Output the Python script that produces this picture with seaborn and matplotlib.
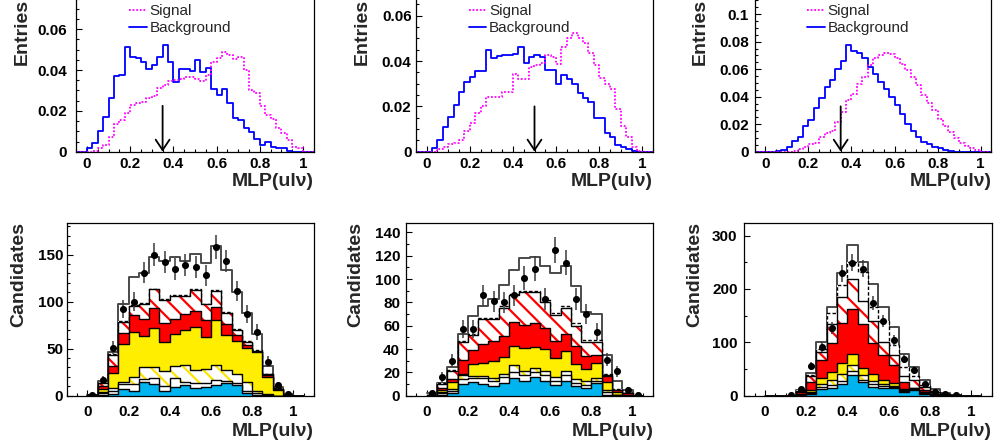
import numpy as np
import matplotlib
matplotlib.use("Agg")
import matplotlib.pyplot as plt
import matplotlib.transforms as mtransforms
from matplotlib.lines import Line2D
from matplotlib.ticker import MultipleLocator, FuncFormatter
import seaborn as sns


# ---- top row: normalised MLP(ulv) output, 40 bins of 0.025 on [0, 1] ----
sig_left = [0, 0.0005, 0.0016, 0.0033, 0.0074, 0.0136, 0.0155, 0.0188, 0.0229, 0.0237,
            0.0245, 0.0262, 0.0273, 0.0311, 0.0327, 0.0347, 0.0352, 0.0355, 0.0365, 0.0365,
            0.0356, 0.0347, 0.0376, 0.0441, 0.0458, 0.0490, 0.0474, 0.0453, 0.0463, 0.0401,
            0.0302, 0.0286, 0.0224, 0.0180, 0.0159, 0.0114, 0.0093, 0.0057, 0.0025, 0.0016]
bkg_left = [0.0016, 0.0044, 0.0103, 0.0168, 0.0265, 0.0371, 0.0376, 0.0515, 0.0466, 0.0458,
            0.0441, 0.0404, 0.0425, 0.0463, 0.0523, 0.0441, 0.0343, 0.0404, 0.0405, 0.0396,
            0.0450, 0.0392, 0.0412, 0.0306, 0.0278, 0.0306, 0.0240, 0.0164, 0.0155, 0.0118,
            0.0098, 0.0060, 0.0033, 0.0049, 0.0025, 0.0020, 0.0016, 0.0003, 0, 0]
sig_mid = [0, 0, 0.0012, 0.0022, 0.0034, 0.0040, 0.0051, 0.0091, 0.0128, 0.0169,
           0.0201, 0.0240, 0.0240, 0.0243, 0.0265, 0.0265, 0.0343, 0.0322, 0.0322, 0.0375,
           0.0382, 0.0392, 0.0426, 0.0419, 0.0385, 0.0463, 0.0500, 0.0522, 0.0500, 0.0481,
           0.0434, 0.0382, 0.0326, 0.0301, 0.0275, 0.0187, 0.0113, 0.0066, 0.0022, 0.0004]
bkg_mid = [0, 0.0015, 0.0051, 0.0110, 0.0154, 0.0206, 0.0265, 0.0309, 0.0331, 0.0356,
           0.0356, 0.0451, 0.0412, 0.0422, 0.0426, 0.0429, 0.0431, 0.0463, 0.0390, 0.0416,
           0.0429, 0.0416, 0.0360, 0.0360, 0.0301, 0.0338, 0.0323, 0.0297, 0.0260, 0.0235,
           0.0221, 0.0147, 0.0147, 0.0081, 0.0066, 0.0029, 0.0022, 0.0010, 0.0004, 0]
sig_right = [0, 0, 0, 0, 0, 0.0007, 0.0017, 0.0036, 0.0056, 0.0065,
             0.0104, 0.0138, 0.0152, 0.0218, 0.0290, 0.0375, 0.0419, 0.0491, 0.0545, 0.0629,
             0.0678, 0.0702, 0.0719, 0.0714, 0.0685, 0.0641, 0.0593, 0.0540, 0.0484, 0.0411,
             0.0351, 0.0303, 0.0235, 0.0186, 0.0145, 0.0097, 0.0065, 0.0041, 0.0024, 0.0012]
bkg_right = [0, 0, 0.0005, 0.0012, 0.0036, 0.0080, 0.0109, 0.0186, 0.0230, 0.0315,
             0.0387, 0.0467, 0.0520, 0.0598, 0.0658, 0.0774, 0.0733, 0.0719, 0.0685, 0.0617,
             0.0564, 0.0508, 0.0453, 0.0399, 0.0339, 0.0273, 0.0201, 0.0152, 0.0109, 0.0073,
             0.0053, 0.0036, 0.0024, 0.0012, 0.0005, 0, 0, 0, 0, 0]

# MLP cut value and the height where the cut arrow starts
cut_values = [0.35, 0.50, 0.35]
cut_arrow_tops = [0.0225, 0.020, 0.033]

# ---- bottom row: stacked candidates, 21 bins of 0.05 on [0, 1.05] ----
# each list is one component, from the bottom of the stack upwards
cyan_left = [0.3, 1, 2, 7, 5, 15, 12, 5, 9, 11, 8, 9, 11, 14, 11, 3, 1, 0, 0, 0, 0]
white_left = [0.2, 2, 3, 5, 7, 3, 7, 5, 10, 4, 5, 4, 6, 2, 2, 2, 2, 1, 0, 0, 0]
yhatch_left = [0, 1, 3, 3, 8, 13, 12, 16, 13, 18, 14, 15, 16, 11, 10, 10, 2, 1, 0, 0, 0]
yellow_left = [0.3, 3, 16, 40, 48, 32, 41, 31, 34, 37, 46, 34, 48, 38, 35, 36, 41, 18, 6, 1, 0]
red_left = [0.1, 3, 8, 12, 18, 19, 21, 20, 16, 17, 17, 18, 13, 11, 7, 3, 1, 2, 1, 0, 0]
rhatch_left = [0.1, 3, 11, 11, 9, 16, 20, 25, 24, 19, 22, 17, 17, 12, 5, 3, 1, 1, 0.5, 0, 0]
dashed_left = [0, 0.5, 1, 1, 1, 1, 1, 1, 1, 1, 1, 1, 1, 1, 1, 1, 1, 0.5, 0.5, 0, 0]
other_left = [0, 2.5, 2, 18, 30, 31, 34, 40, 40, 36, 38, 43, 47, 45, 39, 30, 17, 8.5, 1, 1, 0]
data_left = [1, 17, 51, 92, 100, 131, 150, 142, 135, 139, 137, 128, 158, 143, 111, 87, 68, 36, 11, 2, 0]

cyan_mid = [0, 1, 2, 10, 12, 10, 8, 11, 15, 13, 16, 13, 9, 13, 8, 7, 11, 1, 0.5, 0, 0]
white_mid = [0, 1, 2, 4, 3, 5, 5, 5, 5, 5, 4, 5, 4, 5, 3, 2, 2, 2, 0.5, 0, 0]
yhatch_mid = [0, 1, 2, 4, 2, 2, 2, 3, 6, 3, 4, 3, 3, 3, 3, 4, 2, 2, 0, 0, 0]
yellow_mid = [0.5, 2, 6, 1, 10, 11, 15, 14, 17, 20, 18, 19, 16, 17, 13, 10, 13, 7, 2, 1, 0]
red_mid = [0.3, 2, 2, 12, 12, 16, 17, 18, 20, 20, 20, 18, 15, 15, 16, 11, 7, 5, 2, 1, 0]
rhatch_mid = [0.2, 3, 7, 15, 13, 22, 19, 24, 23, 28, 27, 22, 22, 22, 17, 12, 11, 1, 0, 0, 0]
dashed_mid = [0, 0.5, 1, 1, 1, 1, 1, 2, 1, 1, 1, 2, 2, 2, 2, 2, 2, 1, 0.5, 0, 0]
other_mid = [1, 0.5, 3, 6, 15, 10, 16, 18, 21, 28, 29, 29, 34, 34, 32, 24, 22, 16, 7.5, 3, 0]
data_mid = [2, 16, 30, 57, 57, 86, 81, 80, 86, 101, 109, 83, 125, 114, 83, 70, 55, 31, 21, 5, 1]

cyan_right = [0, 0, 0, 1, 3, 12, 14, 21, 38, 25, 17, 15, 15, 6, 10, 4, 1, 0, 0, 0, 0]
white_right = [0, 0, 0, 1, 2, 4, 6, 6, 8, 5, 5, 3, 2, 2, 1, 1, 1, 0, 0, 0, 0]
yhatch_right = [0, 0, 0, 0, 2, 6, 9, 13, 12, 8, 5, 4, 2, 2, 1, 1, 1, 0, 0, 0, 0]
yellow_right = [0, 0, 0, 1, 3, 12, 15, 22, 21, 14, 13, 7, 5, 3, 2, 1, 0, 1, 0, 0, 0]
red_right = [0, 0, 0, 4, 16, 32, 54, 74, 83, 83, 58, 47, 33, 13, 0, 4, 1, 1, 1, 0, 0]
rhatch_right = [0, 0, 0, 2, 11, 16, 36, 49, 56, 43, 41, 25, 19, 10, 15, 6, 3.5, 1, 0, 0, 0]
dashed_right = [0, 0, 0, 1, 2, 6, 20, 23, 32, 54, 28, 38, 19, 18, 7, 3, 0.5, 0, 0, 0, 0]
other_right = [0, 0, 0, 1, 4, 13, 12, 22, 32, 19, 42, 28, 33, 24, 17, 9, 4, 2, 1, 0, 0]
data_right = [0, 0, 2, 12, 55, 91, 127, 229, 249, 238, 173, 140, 104, 69, 49, 21, 6, 3, 1, 0, 0]

top_edges = np.linspace(-0.05, 1.05, 45)    # 40 bins on [0,1] plus 2 empty bins each side
bottom_edges = np.linspace(0, 1.05, 22)

W, H = 995, 447

# fill colour, hatch colour, hatch, outline colour, outline style, outline width
layer_styles = [
    ("#00B4F0", None, None, "black", "-", 1.0),
    ("white", None, None, "black", "-", 1.0),
    ("white", "#FFE400", "\\\\", "black", "-", 1.0),
    ("#FFEE00", None, None, "black", "-", 1.0),
    ("#FF0000", None, None, "black", "-", 1.0),
    ("white", "#FF0000", "\\\\", "black", "-", 1.0),
    ("white", None, None, "black", (0, (2.5, 1.5)), 1.0),
    ("white", None, None, "#4a4a4a", "-", 1.4),
]


def px_box(left, width, base, height):
    # pixel box (base measured from the top of the image) -> figure fraction
    return [left / W, (H - base) / H, width / W, height / H]


def style_axes(ax, xlim, ylim, ymajor, yminor, ypad, xpad):
    ax.set_xlim(*xlim)
    ax.set_ylim(*ylim)
    ax.set_xlabel("")
    ax.set_ylabel("")
    fmt = FuncFormatter(lambda v, pos: f"{round(v, 6) + 0.0:g}")
    ax.xaxis.set_major_locator(MultipleLocator(0.2))
    ax.xaxis.set_minor_locator(MultipleLocator(0.05))
    ax.yaxis.set_major_locator(MultipleLocator(ymajor))
    ax.yaxis.set_minor_locator(MultipleLocator(yminor))
    ax.xaxis.set_major_formatter(fmt)
    ax.yaxis.set_major_formatter(fmt)
    ax.tick_params(which="both", direction="in", top=False, right=False,
                   width=0.8, colors="black", labelsize=11)
    ax.tick_params(which="major", length=4.5)
    ax.tick_params(which="minor", length=2.3)
    ax.tick_params(axis="y", pad=ypad)
    ax.tick_params(axis="x", pad=xpad)
    for s in ax.spines.values():
        s.set_visible(True)
        s.set_color("black")
        s.set_linewidth(0.9)


def mlp_label(fig, ax, offset):
    trans = mtransforms.offset_copy(ax.transAxes, fig=fig, x=0, y=-offset, units="dots")
    ax.text(1.0, 0.0, "MLP(ulν)", transform=trans, ha="right", va="center",
            fontsize=14, fontweight="bold")


def draw_top(fig, ax, sig, bkg, cut, arrow_top, legend_y):
    centers = (top_edges[:-1] + top_edges[1:]) / 2
    bins = top_edges.tolist()
    sns.histplot(x=centers, weights=np.pad(bkg, 2), bins=bins, element="step",
                 fill=False, color="#0000FF", linewidth=1.3, ax=ax)
    sns.histplot(x=centers, weights=np.pad(sig, 2), bins=bins, element="step",
                 fill=False, color="#FF00FF", linestyle=(0, (1, 1)), linewidth=1.3, ax=ax)
    ax.annotate("", xy=(cut, 0), xytext=(cut, arrow_top),
                arrowprops=dict(arrowstyle="->,head_length=0.75,head_width=0.5",
                                color="black", lw=1.3, shrinkA=0, shrinkB=0,
                                mutation_scale=10))
    handles = [Line2D([], [], color="#FF00FF", linestyle=(0, (1, 1)), lw=1.3),
               Line2D([], [], color="#0000FF", lw=1.3)]
    ax.legend(handles, ["Signal", "Background"], loc="upper left",
              bbox_to_anchor=(0.222, legend_y), frameon=False,
              prop={"weight": "normal", "size": 11}, handlelength=1.15,
              handletextpad=0.2, labelspacing=0.2, borderpad=0, borderaxespad=0)


def draw_stack(ax, components, data):
    centers = (bottom_edges[:-1] + bottom_edges[1:]) / 2
    bins = bottom_edges.tolist()
    tops = np.cumsum(np.array(components, dtype=float), axis=0)
    n = len(components)
    for k in range(n - 1, -1, -1):
        face, hcol, hatch, lc, ls, lw = layer_styles[k]
        z = 1 + (n - 1 - k) * 0.1
        sns.histplot(x=centers, weights=tops[k], bins=bins, element="step",
                     fill=True, facecolor=face, edgecolor=hcol if hcol else face,
                     linewidth=0, hatch=hatch, ax=ax, zorder=z)
        sns.histplot(x=centers, weights=tops[k], bins=bins, element="step",
                     fill=False, color=lc, linestyle=ls, linewidth=lw, ax=ax, zorder=z + 0.05)
    y = np.array(data, dtype=float)
    mask = y > 0
    ax.errorbar(centers[mask], y[mask], yerr=np.sqrt(y[mask]), fmt="none",
                ecolor="#3a3a3a", elinewidth=1.1, capsize=0, zorder=4)
    sns.scatterplot(x=centers[mask], y=y[mask], color="black", s=26, linewidth=0,
                    ax=ax, zorder=5)


def main():
    sns.set_style("ticks")
    plt.rcParams["font.family"] = ["Liberation Sans", "DejaVu Sans"]
    plt.rcParams["font.weight"] = "bold"
    plt.rcParams["hatch.linewidth"] = 1.6

    fig = plt.figure(figsize=(W / 100, H / 100), dpi=100)

    # top row: (left px, width px, px per unit y, ymax); baseline 151.7 px from top
    top_boxes = [(76.2, 237.6, 2040.0, 0.0755), (415.9, 237.2, 2265.0, 0.068),
                 (754.5, 237.0, 1375.0, 0.1125)]
    top_ypads = [6.5, 3.1, 4.1]
    entries_x = [22.5, 362.5, 700.0]
    tops = [(sig_left, bkg_left), (sig_mid, bkg_mid), (sig_right, bkg_right)]
    for i, (sig, bkg) in enumerate(tops):
        left, width, scale, ymax = top_boxes[i]
        height = ymax * scale
        ax = fig.add_axes(px_box(left, width, 151.7, height))
        legend_y = (151.7 - 4.0) / height
        draw_top(fig, ax, sig, bkg, cut_values[i], cut_arrow_tops[i], legend_y)
        style_axes(ax, (-0.05, 1.05), (0, ymax), 0.02, 0.005, top_ypads[i], 3.6)
        mlp_label(fig, ax, 29.8)
        fig.text(entries_x[i] / W, (H - 65) / H, "Entries", rotation=90,
                 ha="center", va="bottom", fontsize=14, fontweight="bold")

    # bottom row
    stacks = [
        ([cyan_left, white_left, yhatch_left, yellow_left, red_left, rhatch_left,
          dashed_left, other_left], data_left),
        ([cyan_mid, white_mid, yhatch_mid, yellow_mid, red_mid, rhatch_mid,
          dashed_mid, other_mid], data_mid),
        ([cyan_right, white_right, yhatch_right, yellow_right, red_right, rhatch_right,
          dashed_right, other_right], data_right),
    ]
    bottom_lefts = [66.7, 406.0, 744.3]
    bottom_ylims = [184, 148.3, 324]
    bottom_ymajor = [50, 20, 100]
    bottom_yminor = [10, 10, 50]
    bottom_ypads = [2.4, 4.3, 4.8]
    cand_x = [18.5, 356.0, 694.5]
    for i, (components, data) in enumerate(stacks):
        ax = fig.add_axes(px_box(bottom_lefts[i], 247.3, 395.7, 173.0))
        draw_stack(ax, components, data)
        style_axes(ax, (-0.1, 1.1), (0, bottom_ylims[i]), bottom_ymajor[i],
                   bottom_yminor[i], bottom_ypads[i], 6.7)
        mlp_label(fig, ax, 35.3)
        fig.text(cand_x[i] / W, (H - 221.7) / H, "Candidates", rotation=90,
                 ha="center", va="top", fontsize=14, fontweight="bold")

    fig.savefig("out.png", dpi=100)


if __name__ == "__main__":
    main()
